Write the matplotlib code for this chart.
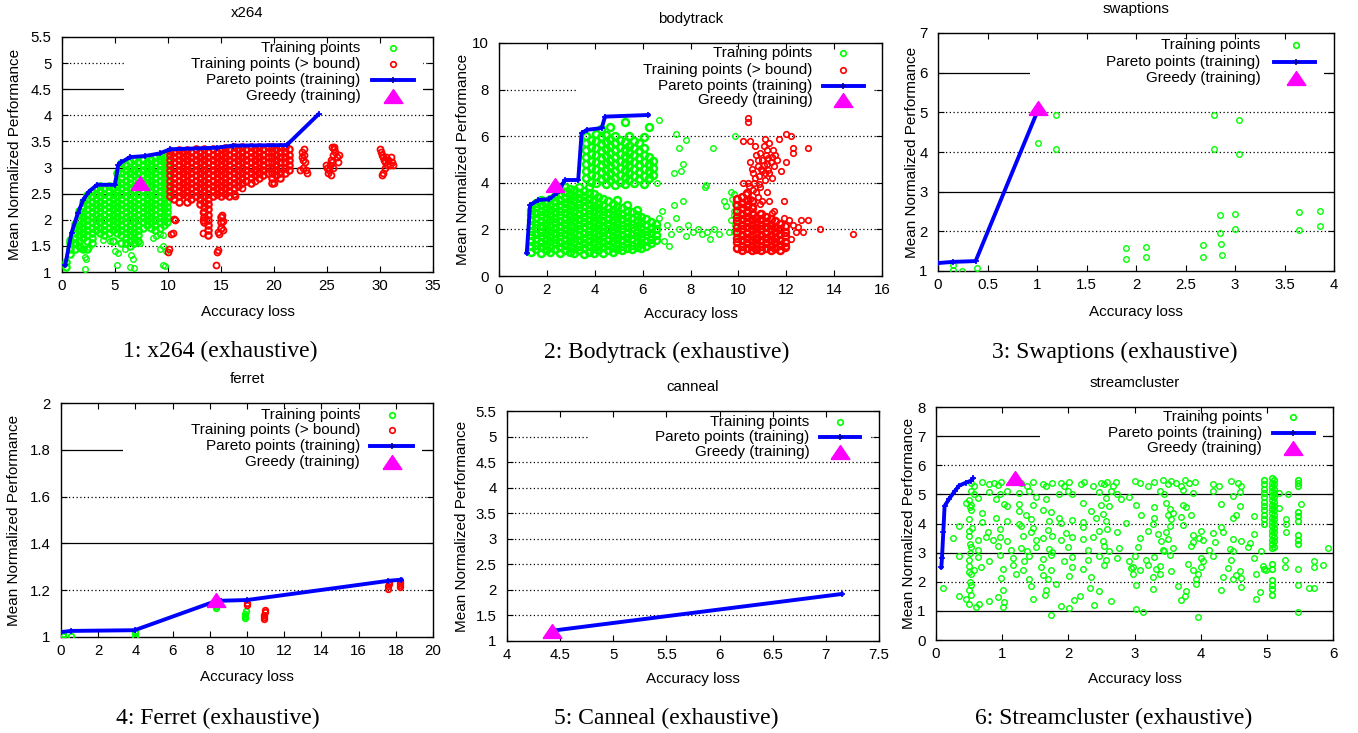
import matplotlib
matplotlib.use("Agg")
import matplotlib.pyplot as plt
from matplotlib.patches import Rectangle

plt.rcParams['font.family'] = ['Liberation Sans', 'DejaVu Sans']

GREEN = '#00ff00'
RED = '#ff0000'
BLUE = '#0000ff'
MAGENTA = '#ff00ff'
TRI = [(-1, -0.74), (1, -0.74), (0, 0.74), (-1, -0.74)]

# ------------------------------------------------------------------ data
# ---- x264 ----
x264_pareto = [(0.3, 1.13), (0.9, 1.75), (1.5, 2.13), (2.0, 2.38), (2.5, 2.53), (3.3, 2.67),
               (5.0, 2.67), (5.3, 3.05), (5.6, 3.1), (6.4, 3.2), (7.8, 3.22), (9.2, 3.27),
               (10.2, 3.35), (14.6, 3.38), (16.1, 3.42), (21.2, 3.43), (24.2, 4.02)]
x264_greedy = [(7.4, 2.7)]
x264_train_x = [0.4, 0.8, 1.2, 1.6, 2.0, 2.4, 2.8, 3.2, 3.6, 4.0, 4.4, 4.8, 5.2, 5.6, 6.0, 6.4,
                6.8, 7.2, 7.6, 8.0, 8.4, 8.8, 9.2, 9.6, 9.9]
x264_train_y = [
    [1.1, 1.2],
    [1.35, 1.45, 1.55, 1.62],
    [1.45, 1.55, 1.65, 1.75, 1.85, 1.92],
    [1.5, 1.6, 1.7, 1.8, 1.9, 2.0, 2.1, 2.16],
    [1.45, 1.65, 1.75, 1.85, 1.95, 2.05, 2.15, 2.25, 2.35],
    [1.45, 1.6, 1.7, 1.8, 1.9, 2.0, 2.1, 2.2, 2.3, 2.4, 2.48],
    [1.55, 1.65, 1.75, 1.85, 1.95, 2.05, 2.15, 2.25, 2.35, 2.45, 2.55],
    [1.8, 1.9, 2.0, 2.1, 2.2, 2.3, 2.4, 2.5, 2.6],
    [1.75, 1.85, 1.95, 2.05, 2.15, 2.25, 2.35, 2.45, 2.55, 2.64],
    [1.7, 1.8, 1.9, 2.0, 2.1, 2.2, 2.3, 2.4, 2.5, 2.6],
    [1.75, 1.85, 1.95, 2.05, 2.15, 2.25, 2.35, 2.45, 2.55, 2.64],
    [1.6, 1.8, 1.9, 2.0, 2.1, 2.2, 2.3, 2.4, 2.5, 2.6],
    [1.75, 1.85, 1.95, 2.05, 2.15, 2.25, 2.35, 2.45, 2.55, 2.65, 2.75, 2.9],
    [1.55, 1.7, 1.8, 1.9, 2.0, 2.1, 2.2, 2.3, 2.4, 2.5, 2.6, 2.7, 2.8, 2.9, 3.0, 3.08],
    [1.55, 1.65, 1.75, 1.85, 1.95, 2.05, 2.15, 2.25, 2.35, 2.45, 2.55, 2.65, 2.75, 2.85, 2.95, 3.05],
    [1.5, 1.6, 1.7, 1.8, 1.9, 2.0, 2.1, 2.2, 2.3, 2.4, 2.5, 2.6, 2.7, 2.8, 2.9, 3.0, 3.1],
    [1.55, 1.65, 1.75, 1.85, 1.95, 2.05, 2.15, 2.25, 2.35, 2.45, 2.55, 2.65, 2.85, 2.95, 3.05, 3.15],
    [1.6, 1.7, 1.8, 1.9, 2.0, 2.1, 2.2, 2.3, 2.4, 2.5, 2.6, 2.7, 2.8, 2.9, 3.0, 3.1],
    [1.85, 1.95, 2.05, 2.15, 2.25, 2.35, 2.45, 2.55, 2.65, 2.75, 2.85, 2.95, 3.05, 3.15],
    [1.9, 2.0, 2.1, 2.2, 2.3, 2.4, 2.5, 2.6, 2.7, 2.8, 2.9, 3.0, 3.1],
    [1.85, 1.95, 2.05, 2.15, 2.25, 2.35, 2.45, 2.55, 2.65, 2.75, 2.85, 2.95, 3.05, 3.15],
    [1.8, 1.9, 2.0, 2.1, 2.2, 2.3, 2.4, 2.5, 2.6, 2.7, 2.8, 2.9, 3.0, 3.1, 3.2],
    [1.85, 1.95, 2.05, 2.15, 2.25, 2.35, 2.45, 2.55, 2.65, 2.75, 2.85, 2.95, 3.05, 3.15, 3.22],
    [1.9, 2.0, 2.1, 2.2, 2.3, 2.4, 2.5, 2.6, 2.7, 2.8, 2.9, 3.0, 3.1, 3.2],
    [1.95, 2.05, 2.15, 2.25, 2.35, 2.45, 2.55, 2.65, 2.75, 2.85, 2.95, 3.05, 3.15, 3.25],
]
x264_train_extra = [(2.2, 1.29), (2.3, 1.25), (2.2, 1.06), (1.7, 1.46), (1.9, 1.45), (2.5, 1.47),
                    (5.0, 1.4), (5.3, 1.36), (5.2, 1.13), (6.4, 1.1), (6.5, 1.32), (6.7, 1.25),
                    (6.8, 1.08), (7.0, 1.61), (7.4, 1.55), (8.6, 1.65), (8.9, 1.68), (9.2, 1.72),
                    (9.5, 1.7), (9.2, 1.45), (9.5, 1.5), (9.5, 1.13), (9.7, 1.12), (9.8, 1.4),
                    (4.5, 1.6), (3.9, 1.62), (5.9, 1.45)]
x264_over_x = [10.2, 10.6, 11.0, 11.4, 11.8, 12.2, 12.6, 13.0, 13.4, 13.8, 14.2, 14.6, 15.0, 15.4,
               15.8, 16.2, 16.6, 17.0, 17.4, 17.8, 18.2, 18.6, 19.0, 19.4, 19.8, 20.2, 20.6, 21.0, 21.4]
x264_over_y = [
    [2.45, 2.55, 2.65, 2.75, 2.85, 2.95, 3.05, 3.15, 3.25, 3.32],
    [2.4, 2.5, 2.6, 2.7, 2.8, 2.9, 3.0, 3.1, 3.2, 3.3],
    [2.35, 2.45, 2.55, 2.65, 2.75, 2.85, 2.95, 3.05, 3.15, 3.25, 3.33],
    [2.5, 2.6, 2.7, 2.8, 2.9, 3.0, 3.1, 3.2, 3.3],
    [2.35, 2.45, 2.55, 2.65, 2.75, 2.85, 2.95, 3.05, 3.15, 3.25, 3.34],
    [2.4, 2.5, 2.6, 2.7, 2.8, 2.9, 3.0, 3.1, 3.2, 3.3],
    [2.45, 2.55, 2.65, 2.75, 2.85, 2.95, 3.05, 3.15, 3.25, 3.35],
    [2.3, 2.4, 2.5, 2.6, 2.7, 2.8, 2.9, 3.0, 3.1, 3.2, 3.3],
    [1.95, 2.05, 2.15, 2.25, 2.35, 2.45, 2.55, 2.65, 2.75, 2.85, 2.95, 3.05, 3.15, 3.25, 3.35],
    [1.7, 1.8, 1.9, 2.0, 2.1, 2.2, 2.3, 2.4, 2.5, 2.6, 2.7, 2.8, 2.9, 3.0, 3.1, 3.2, 3.3],
    [2.45, 2.55, 2.65, 2.75, 2.85, 2.95, 3.05, 3.15, 3.25, 3.35],
    [2.5, 2.6, 2.7, 2.8, 2.9, 3.0, 3.1, 3.2, 3.3],
    [1.85, 1.95, 2.05, 2.45, 2.55, 2.65, 2.75, 2.85, 2.95, 3.05, 3.15, 3.25, 3.35],
    [2.5, 2.6, 2.7, 2.8, 2.9, 3.0, 3.1, 3.2, 3.3, 3.38],
    [2.45, 2.55, 2.65, 2.75, 2.85, 2.95, 3.05, 3.15, 3.25, 3.35],
    [2.5, 2.6, 2.7, 2.8, 2.9, 3.0, 3.1, 3.2, 3.3, 3.4],
    [2.65, 2.75, 2.85, 2.95, 3.05, 3.15, 3.25, 3.35],
    [2.7, 2.8, 2.9, 3.0, 3.1, 3.2, 3.3, 3.4],
    [2.75, 2.85, 2.95, 3.05, 3.15, 3.25, 3.35],
    [2.7, 2.8, 2.9, 3.0, 3.1, 3.2, 3.3, 3.4],
    [2.85, 2.95, 3.05, 3.15, 3.25, 3.35],
    [2.8, 2.9, 3.0, 3.1, 3.2, 3.3, 3.4],
    [2.85, 2.95, 3.05, 3.15, 3.25, 3.35],
    [2.9, 3.0, 3.1, 3.2, 3.3, 3.4],
    [2.7, 2.8, 2.9, 3.0, 3.1, 3.2, 3.3, 3.4],
    [2.85, 2.95, 3.05, 3.15, 3.25, 3.35],
    [2.8, 2.9, 3.0, 3.1, 3.2, 3.3, 3.4],
    [2.9, 3.0, 3.1, 3.2, 3.3, 3.4],
    [2.95, 3.05, 3.15, 3.25, 3.35],
]
x264_over_extra = [(10.0, 1.38), (10.1, 1.45), (10.3, 1.72), (10.5, 1.75), (10.6, 2.02), (10.7, 2.0),
                   (13.3, 1.74), (13.3, 2.0), (13.3, 2.15), (14.7, 1.77), (14.8, 1.72), (14.7, 1.42),
                   (14.6, 1.38), (14.5, 1.13), (15.1, 2.1), (15.2, 1.98), (15.2, 1.8), (16.3, 2.45),
                   (17.0, 2.6), (18.2, 2.75), (20.0, 2.7), (22.5, 2.95),
                   (22.6, 3.3), (22.7, 3.15), (22.8, 3.25), (22.7, 3.0), (22.9, 3.1), (23.0, 2.95),
                   (22.6, 3.2), (22.8, 3.35), (23.1, 2.9),
                   (25.5, 3.4), (25.7, 3.35), (25.6, 3.25), (25.4, 3.15), (25.3, 3.05), (25.2, 2.95),
                   (25.1, 2.9), (25.8, 3.3), (25.9, 3.2), (26.0, 3.1), (25.6, 3.0), (25.4, 2.85),
                   (25.7, 3.4), (26.1, 3.25), (25.5, 3.1), (24.9, 3.05), (25.0, 3.0),
                   (30.0, 3.35), (30.1, 3.3), (30.2, 3.25), (30.3, 3.2), (30.4, 3.15), (30.5, 3.1),
                   (30.6, 3.2), (30.8, 3.15), (30.9, 3.05), (31.0, 3.2), (31.1, 3.1), (30.5, 3.0),
                   (30.3, 2.9), (30.2, 2.85), (30.7, 3.05), (31.2, 3.05)]

# ---- bodytrack ----
bt_pareto = [(1.16, 0.99), (1.3, 3.05), (1.64, 3.26), (2.1, 3.3), (2.41, 3.55), (2.76, 4.12),
             (3.31, 4.12), (3.45, 6.12), (3.66, 6.27), (4.29, 6.35), (4.43, 6.84), (6.24, 6.91)]
bt_greedy = [(2.34, 3.9)]
bt_train_x = [1.35, 1.55, 1.75, 1.95, 2.15, 2.35, 2.55, 2.75, 2.95, 3.15, 3.35, 3.55, 3.75, 3.95,
              4.15, 4.35, 4.55, 4.75, 4.95, 5.15, 5.35, 5.55, 5.75, 5.95, 6.15, 6.35, 6.55]
bt_train_y = [
    [1.05, 1.3, 1.5, 1.75, 1.95, 2.2, 2.4, 2.65, 2.85],
    [1.15, 1.35, 1.6, 1.8, 2.05, 2.25, 2.5, 2.7, 2.95, 3.15],
    [1.0, 1.25, 1.45, 1.7, 1.9, 2.15, 2.35, 2.6, 2.8, 3.05, 3.25],
    [1.1, 1.35, 1.55, 1.8, 2.0, 2.25, 2.45, 2.7, 2.9, 3.15],
    [1.05, 1.25, 1.5, 1.7, 1.95, 2.15, 2.4, 2.6, 2.85, 3.05, 3.3],
    [1.15, 1.4, 1.6, 1.85, 2.05, 2.3, 2.5, 2.75, 2.95, 3.2, 3.45],
    [1.0, 1.25, 1.45, 1.7, 1.9, 2.15, 2.35, 2.6, 2.8, 3.05, 3.25, 3.5, 3.75],
    [1.1, 1.35, 1.55, 1.8, 2.0, 2.25, 2.45, 2.7, 2.9, 3.15, 3.35, 3.6, 3.8],
    [1.05, 1.25, 1.5, 1.7, 1.95, 2.15, 2.4, 2.6, 2.85, 3.05, 3.3, 3.5, 3.75],
    [1.0, 1.2, 1.45, 1.65, 1.9, 2.1, 2.35, 2.55, 2.8, 3.0, 3.25, 3.45, 3.7],
    [1.1, 1.3, 1.55, 1.75, 2.0, 2.2, 2.45, 2.65, 2.9, 3.1, 3.35, 3.55, 3.8],
    [0.95, 1.2, 1.4, 1.65, 1.85, 2.1, 2.3, 2.55, 2.75, 3.0, 3.2, 3.45, 3.65],
    [1.05, 1.3, 1.5, 1.75, 1.95, 2.2, 2.4, 2.65, 2.85, 3.1, 3.3, 3.55, 3.8],
    [1.0, 1.2, 1.45, 1.65, 1.9, 2.1, 2.35, 2.55, 2.8, 3.0, 3.25, 3.5],
    [1.1, 1.3, 1.55, 1.75, 2.0, 2.2, 2.45, 2.65, 2.9, 3.1, 3.4],
    [1.0, 1.25, 1.45, 1.7, 1.9, 2.15, 2.35, 2.6, 2.8, 3.05, 3.3],
    [1.1, 1.35, 1.55, 1.8, 2.0, 2.25, 2.45, 2.7, 2.9, 3.2],
    [1.05, 1.25, 1.5, 1.7, 1.95, 2.15, 2.4, 2.6, 2.85, 3.1],
    [1.15, 1.35, 1.6, 1.8, 2.05, 2.25, 2.5, 2.7, 2.95, 3.25],
    [1.1, 1.3, 1.55, 1.75, 2.0, 2.2, 2.45, 2.65, 2.9],
    [1.2, 1.4, 1.65, 1.85, 2.1, 2.3, 2.55, 2.8, 3.05],
    [1.15, 1.35, 1.6, 1.8, 2.05, 2.25, 2.5, 2.75],
    [1.25, 1.45, 1.7, 1.9, 2.15, 2.35, 2.6, 2.85],
    [1.2, 1.4, 1.65, 1.85, 2.1, 2.3, 2.55],
    [1.3, 1.5, 1.75, 1.95, 2.2, 2.45],
    [1.4, 1.6, 1.85, 2.05, 2.3],
    [1.55, 1.75, 2.0, 2.25],
]
bt_train2_x = [3.65, 3.85, 4.05, 4.25, 4.45, 4.65, 4.85, 5.05, 5.25, 5.45, 5.65, 5.85, 6.05, 6.25, 6.45]
bt_train2_y = [
    [4.2, 4.5, 4.8, 5.1, 5.4, 5.7, 6.0],
    [4.05, 4.35, 4.65, 4.95, 5.25, 5.55, 5.85],
    [4.0, 4.3, 4.6, 4.9, 5.2, 5.5, 5.8, 6.1],
    [4.15, 4.45, 4.75, 5.05, 5.35, 5.65, 5.95, 6.3],
    [3.95, 4.25, 4.55, 4.85, 5.15, 5.45, 5.75, 6.05],
    [4.1, 4.4, 4.7, 5.0, 5.3, 5.6, 5.9, 6.4],
    [3.9, 4.2, 4.5, 4.8, 5.1, 5.4, 5.7, 6.0],
    [4.05, 4.35, 4.65, 4.95, 5.25, 5.55, 5.85],
    [3.95, 4.25, 4.55, 4.85, 5.15, 5.45, 5.75, 6.6],
    [4.1, 4.4, 4.7, 5.0, 5.3, 5.6, 6.0],
    [4.0, 4.3, 4.6, 4.9, 5.2, 5.5, 5.8],
    [4.15, 4.45, 4.75, 5.05, 5.35, 5.7],
    [3.95, 4.3, 4.6, 4.9, 5.2, 5.5, 5.95],
    [4.2, 4.5, 4.8, 5.1, 6.4],
    [4.35, 4.65, 4.95],
]
bt_train_extra = [(6.7, 6.7), (7.4, 6.1), (7.8, 5.85), (7.5, 5.5), (7.7, 4.8), (7.6, 4.5), (7.3, 4.4),
                  (6.6, 4.0), (8.65, 3.9), (8.6, 3.8), (8.95, 5.5), (9.85, 6.0),
                  (6.8, 2.8), (7.0, 2.2), (7.2, 1.8), (7.4, 2.5), (7.3, 3.05), (7.7, 3.2), (7.5, 2.0),
                  (7.8, 1.7), (7.9, 2.2), (8.1, 1.9), (8.3, 2.0), (8.5, 1.8), (8.8, 1.6), (9.0, 2.0),
                  (9.2, 1.8), (9.4, 3.2), (9.5, 3.0), (9.6, 1.9), (9.7, 2.4), (9.8, 3.5), (9.8, 2.8),
                  (9.85, 2.2), (9.9, 1.2), (9.9, 1.6), (9.75, 3.3), (9.85, 3.1), (6.9, 1.5),
                  (7.1, 1.3), (6.7, 2.5), (8.7, 1.9), (9.8, 1.9), (9.8, 2.6), (9.7, 3.6)]
bt_over_x = [9.95, 10.15, 10.35, 10.55, 10.75, 10.95, 11.15, 11.35, 11.55, 11.75, 11.95]
bt_over_y = [
    [1.2, 1.45, 1.65, 1.9, 2.1, 2.35, 2.55, 2.8, 3.05, 3.3],
    [1.1, 1.3, 1.55, 1.75, 2.0, 2.2, 2.45, 2.65, 2.9, 3.15, 3.4],
    [1.2, 1.4, 1.65, 1.85, 2.1, 2.3, 2.55, 2.75, 3.0, 3.25, 3.55],
    [1.1, 1.3, 1.55, 1.75, 2.0, 2.2, 2.45, 2.65, 2.9, 3.2],
    [1.15, 1.4, 1.6, 1.85, 2.05, 2.3, 2.5],
    [1.1, 1.3, 1.55, 1.75, 2.0, 2.2, 2.45, 2.65],
    [1.2, 1.4, 1.65, 1.85, 2.1, 2.3, 2.55],
    [1.1, 1.3, 1.55, 1.75, 2.0, 2.2, 2.45],
    [1.2, 1.45, 1.65, 1.9, 2.1, 2.35],
    [1.1, 1.35, 1.55, 1.8, 2.0, 2.25],
    [1.25, 1.45, 1.7, 1.9, 2.15],
]
bt_over_extra = [(10.3, 3.5), (10.5, 3.3), (10.6, 3.7), (10.8, 3.4), (10.4, 4.0), (10.7, 4.2),
                 (10.9, 3.8), (11.0, 4.5), (11.1, 4.1), (11.2, 4.8), (10.8, 4.7), (11.3, 4.4),
                 (11.0, 5.0), (11.4, 5.1), (11.2, 5.4), (10.9, 5.3), (11.5, 4.7), (11.6, 5.0),
                 (11.3, 5.7), (10.7, 5.6), (11.1, 5.9), (10.5, 4.9), (10.2, 4.0), (11.0, 3.2),
                 (11.3, 3.2), (11.5, 2.8), (11.9, 3.2), (12.0, 4.9), (12.3, 5.3), (12.3, 5.5),
                 (12.9, 5.5), (11.7, 5.9), (12.0, 6.1), (12.2, 6.0), (10.2, 5.8), (10.5, 5.8),
                 (10.4, 6.6), (10.4, 6.8), (11.8, 4.5), (10.6, 2.7), (11.9, 2.5), (12.1, 2.4),
                 (12.3, 2.2), (12.5, 2.1), (12.6, 2.4), (12.4, 1.9), (12.7, 1.9), (12.9, 2.4),
                 (13.4, 2.0), (14.8, 1.8), (12.2, 1.6), (12.0, 1.3), (11.4, 2.7), (10.9, 2.7),
                 (11.1, 4.4), (10.8, 5.0), (11.4, 4.2), (10.6, 4.4), (11.2, 3.6), (10.9, 3.1),
                 (10.4, 3.1), (10.6, 3.0), (10.75, 3.6), (10.45, 3.85), (10.65, 4.0), (10.85, 4.3),
                 (11.05, 4.75), (11.25, 5.05), (11.15, 5.2), (11.35, 4.9), (10.95, 4.6), (11.25, 4.55),
                 (10.85, 3.95), (11.45, 5.4), (11.05, 5.6), (11.55, 5.2), (10.75, 5.2), (10.55, 4.6)]

# ---- swaptions ----
sw_pareto = [(0.0, 1.2), (0.15, 1.23), (0.38, 1.25), (1.0, 5.0)]
sw_greedy = [(1.01, 5.1)]
sw_train = [(0.15, 1.15), (0.15, 1.02), (0.24, 1.0), (0.39, 1.07), (1.01, 4.22), (1.19, 4.94),
            (1.19, 4.08), (1.9, 1.59), (1.9, 1.31), (2.1, 1.61), (2.1, 1.36), (2.68, 1.65),
            (2.68, 1.35), (2.79, 4.94), (2.79, 4.08), (3.04, 4.8), (3.04, 3.95), (2.85, 2.4),
            (2.85, 1.97), (2.86, 1.68), (2.87, 1.4), (3.0, 2.44), (3.0, 2.05), (3.65, 2.48),
            (3.65, 2.03), (3.86, 2.52), (3.86, 2.13)]

# ---- ferret ----
fe_pareto = [(0.0, 1.021), (0.54, 1.026), (3.96, 1.029), (8.2, 1.15), (8.6, 1.155), (10.0, 1.158),
             (17.6, 1.24), (18.3, 1.245)]
fe_greedy = [(8.33, 1.158)]
fe_train = [(0.1, 1.004), (0.1, 1.012), (0.54, 1.006), (3.96, 1.004), (3.96, 1.015), (3.96, 1.026),
            (8.35, 1.125), (8.35, 1.133), (9.9, 1.08), (9.9, 1.09), (9.9, 1.1), (9.95, 1.11)]
fe_over = [(10.0, 1.135), (10.0, 1.147), (10.9, 1.076), (10.9, 1.086), (10.9, 1.096), (10.95, 1.106),
           (10.95, 1.114), (17.6, 1.206), (17.6, 1.216), (17.65, 1.226), (17.65, 1.234),
           (18.2, 1.212), (18.2, 1.222), (18.25, 1.232), (18.25, 1.24)]

# ---- canneal ----
ca_pareto = [(4.42, 1.2), (7.15, 1.92)]
ca_greedy = [(4.42, 1.2)]
ca_train = [(4.42, 1.2)]

# ---- streamcluster ----
sc_pareto = [(0.08, 2.5), (0.09, 2.8), (0.11, 3.7), (0.13, 4.6), (0.2, 4.85), (0.28, 5.1),
             (0.35, 5.3), (0.45, 5.4), (0.53, 5.47), (0.56, 5.55)]
sc_greedy = [(1.19, 5.55)]
sc_train = [
    (0.53, 5.4), (0.58, 5.3), (0.7, 5.42), (0.8, 5.35), (0.88, 5.4), (0.93, 5.32), (0.98, 5.42),
    (1.28, 5.38), (1.38, 5.3), (1.46, 5.42), (1.61, 5.36), (1.66, 5.3), (1.76, 5.4), (1.89, 5.38),
    (1.94, 5.3), (2.01, 5.42), (2.19, 5.35), (2.24, 5.42), (2.37, 5.3), (2.49, 5.4), (2.54, 5.34),
    (2.59, 5.42), (2.67, 5.3), (2.72, 5.44),
    (0.53, 5.1), (0.58, 5.0), (0.8, 5.08), (0.96, 5.02), (1.08, 5.1), (1.26, 5.04), (1.41, 5.12),
    (1.86, 5.02), (1.99, 5.1), (2.06, 5.0), (2.47, 5.08), (2.64, 5.12), (2.74, 5.0),
    (0.63, 4.87), (0.91, 4.85), (1.51, 4.9), (1.66, 4.83), (2.57, 4.88), (2.79, 4.85), (2.92, 4.9),
    (0.45, 4.7), (0.53, 4.62), (1.03, 4.68), (1.08, 4.6), (1.26, 4.66), (1.46, 4.62), (2.22, 4.7),
    (2.49, 4.64), (2.62, 4.6),
    (0.53, 4.45), (0.7, 4.35), (1.26, 4.42), (1.36, 4.3), (1.61, 4.48), (1.74, 4.38), (2.34, 4.44),
    (2.52, 4.32),
    (0.5, 4.15), (0.7, 4.05), (0.91, 4.2), (1.08, 4.1), (1.26, 4.0), (1.44, 4.15), (1.71, 4.08),
    (1.86, 4.18), (1.89, 4.02), (2.06, 4.12), (2.22, 4.05), (2.42, 4.2), (2.57, 4.1), (2.87, 4.02),
    (0.35, 3.9), (0.5, 3.75), (0.55, 3.85), (0.78, 3.7), (0.96, 3.8), (1.28, 3.92), (1.44, 3.72),
    (1.46, 3.85), (1.69, 3.78), (1.96, 3.68), (2.22, 3.88), (2.47, 3.75), (2.59, 3.82), (2.74, 3.7),
    (0.25, 3.5), (0.5, 3.58), (0.63, 3.42), (0.76, 3.55), (0.86, 3.45), (0.96, 3.52), (1.08, 3.4),
    (1.31, 3.56), (1.51, 3.44), (1.61, 3.5), (1.76, 3.58), (1.89, 3.42), (2.06, 3.54), (2.22, 3.46),
    (2.37, 3.52), (2.52, 3.4),
    (0.53, 3.2), (0.63, 3.1), (0.93, 3.22), (1.13, 3.08), (1.28, 3.15), (1.38, 3.05), (1.51, 3.2),
    (1.71, 3.12), (1.76, 3.02), (1.99, 3.18), (2.29, 3.1), (2.54, 3.22), (2.62, 3.06), (2.77, 3.15),
    (0.35, 2.9), (0.5, 2.75), (0.63, 2.85), (0.8, 2.72), (0.96, 2.92), (1.16, 2.8), (1.33, 2.7),
    (1.41, 2.88), (1.61, 2.78), (1.74, 2.93), (1.94, 2.72), (2.06, 2.85), (2.29, 2.76), (2.47, 2.9),
    (2.57, 2.74), (2.74, 2.82), (2.92, 2.7),
    (0.5, 2.55), (0.58, 2.42), (0.68, 2.5), (1.01, 2.45), (1.16, 2.56), (1.31, 2.42), (1.59, 2.52),
    (1.74, 2.4), (2.06, 2.5), (2.22, 2.44), (2.54, 2.56), (2.95, 2.48),
    (0.53, 2.25), (0.98, 2.12), (1.21, 2.28), (1.41, 2.1), (1.61, 2.22), (1.69, 2.08), (2.01, 2.2),
    (2.34, 2.15),
    (0.1, 1.8), (0.53, 1.9), (1.01, 1.72), (1.44, 1.85), (1.66, 1.7), (1.81, 1.92), (2.32, 1.78),
    (2.47, 1.68),
    (0.35, 1.5), (0.45, 1.4), (0.53, 1.55), (0.8, 1.35), (0.93, 1.48), (1.03, 1.32), (1.46, 1.42),
    (1.64, 1.55), (2.09, 1.38), (2.17, 1.5), (2.64, 1.35),
    (0.5, 1.22), (0.6, 1.15), (0.65, 1.25), (1.01, 1.12), (1.89, 1.18), (2.01, 1.1), (2.39, 1.2),
    (1.74, 0.86),
    (0.51, 3.3), (0.52, 3.0), (0.5, 2.35), (0.52, 2.0), (0.5, 1.7), (0.51, 4.55), (0.5, 4.8),
    (3.0, 5.45), (3.08, 5.38), (3.2, 5.3), (3.3, 5.42), (3.43, 5.5), (3.5, 5.35), (3.55, 5.45),
    (3.63, 5.4), (3.71, 5.3), (3.76, 5.5), (3.83, 5.38), (3.91, 5.44), (4.18, 5.35), (4.28, 5.3),
    (4.46, 5.45), (4.56, 5.38), (4.61, 5.3),
    (3.38, 5.1), (3.45, 5.0), (3.73, 5.15), (3.88, 5.05), (4.18, 5.12), (4.49, 4.95), (4.59, 5.08),
    (5.19, 5.05), (5.32, 5.0),
    (3.03, 4.65), (3.3, 4.55), (3.48, 4.7), (3.53, 4.5), (3.73, 4.62), (3.78, 4.55), (4.31, 4.68),
    (4.59, 4.6), (5.19, 4.52), (5.52, 4.66),
    (3.1, 4.3), (3.3, 4.2), (3.5, 4.28), (3.55, 4.15), (3.58, 4.35), (3.71, 4.22), (3.86, 4.3),
    (4.49, 4.18), (4.54, 4.3), (4.81, 4.25), (5.29, 4.15),
    (3.28, 4.0), (3.53, 3.9), (3.73, 3.95), (4.31, 3.88), (5.29, 4.0),
    (3.2, 3.75), (3.35, 3.65), (3.48, 3.7), (3.88, 3.62), (4.01, 3.75), (4.18, 3.68), (4.34, 3.72),
    (4.81, 3.65), (5.29, 3.7),
    (3.08, 3.5), (3.4, 3.4), (3.5, 3.48), (3.88, 3.36), (3.98, 3.5), (4.03, 3.42), (4.21, 3.38),
    (4.49, 3.46), (4.61, 3.4), (4.74, 3.34),
    (3.05, 3.2), (3.43, 3.1), (3.45, 3.05), (3.58, 3.15), (3.86, 3.22), (4.13, 3.08), (4.44, 3.12),
    (4.49, 3.04), (4.71, 3.18), (4.91, 3.06), (5.92, 3.15),
    (3.0, 2.9), (3.18, 2.75), (3.3, 2.85), (3.53, 2.92), (4.01, 2.8), (4.03, 2.7), (4.18, 2.88),
    (4.46, 2.74), (4.81, 2.82), (5.27, 2.76), (5.72, 2.7),
    (2.98, 2.5), (3.08, 2.4), (3.2, 2.58), (3.33, 2.45), (3.38, 2.55), (3.55, 2.38), (3.81, 2.6),
    (3.88, 2.42), (4.01, 2.52), (4.41, 2.48), (4.59, 2.36), (4.94, 2.55), (4.99, 2.42), (5.27, 2.5),
    (5.47, 2.45), (5.72, 2.5), (5.85, 2.58),
    (2.98, 2.25), (3.28, 2.15), (3.38, 2.28), (3.93, 2.1), (3.96, 2.25), (4.34, 2.18), (4.49, 2.08),
    (4.54, 2.22), (4.61, 2.12), (4.84, 2.26),
    (3.03, 1.9), (3.28, 1.75), (3.66, 1.85), (3.78, 1.68), (3.93, 1.92), (4.31, 1.7), (4.61, 1.82),
    (4.89, 1.65), (5.47, 1.9), (5.64, 1.8), (5.72, 1.8),
    (3.76, 1.5), (4.84, 1.42), (3.7, 1.38),
    (3.03, 1.08), (3.13, 0.95), (5.47, 0.95), (3.96, 0.8)]
sc_col_x = [5.08, 5.11, 4.96, 5.47]
sc_col_y = [
    [1.55, 1.75, 1.9, 2.05, 2.45, 2.6, 3.15, 3.3, 3.45, 3.6, 3.75, 3.9, 4.05, 4.2, 4.35, 4.5, 4.65,
     4.8, 4.95, 5.1, 5.25, 5.4, 5.55],
    [3.2, 3.4, 3.55, 3.7, 3.85, 4.0, 4.15, 4.3, 4.45, 4.6, 4.75, 4.9, 5.05, 5.2, 5.35, 5.5],
    [2.45, 4.0, 4.15, 4.3, 4.45, 4.6, 4.75, 4.9, 5.05, 5.2, 5.35, 5.5],
    [3.3, 3.45, 3.6, 4.1, 4.25, 4.4, 5.3, 5.4, 5.5],
]


# ------------------------------------------------------------------ helpers
def cols(xs, ys):
    px, py = [], []
    for x, col in zip(xs, ys):
        for y in col:
            px.append(x)
            py.append(y)
    return px, py


def pairs(lst):
    return [p[0] for p in lst], [p[1] for p in lst]


W, H = 1358, 733
fig = plt.figure(figsize=(W / 100, H / 100), dpi=100)


def make_panel(rect, xlim, ylim, xt, yt, grid, title, ylab_off, xlab_off):
    l, t, r, b = rect
    ax = fig.add_axes([l / W, 1 - b / H, (r - l) / W, (b - t) / H])
    ax.set_xlim(*xlim)
    ax.set_ylim(*ylim)
    ax.set_xticks(xt)
    ax.set_yticks(yt)
    ax.set_xticklabels(['%g' % v for v in xt])
    ax.set_yticklabels(['%g' % v for v in yt])
    ax.tick_params(direction='in', length=4.3, width=0.8, top=True, right=True, labelsize=10.8)
    ax.tick_params(axis='x', pad=5)
    ax.tick_params(axis='y', pad=7.5)
    for sp in ax.spines.values():
        sp.set_linewidth(1.0)
    for v, st in zip(yt[1:-1], grid):
        if st == 's':
            ax.axhline(v, color='black', lw=0.9, zorder=1)
        else:
            ax.axhline(v, color='black', lw=0.9, ls=(0, (1, 2)), zorder=1)
    ax.annotate(title, xy=(0.5, 1), xycoords='axes fraction', xytext=(0, 24),
                textcoords='offset pixels', ha='center', va='center', fontsize=10.8)
    ax.annotate('Accuracy loss', xy=(0.5, 0), xycoords='axes fraction', xytext=(0, -xlab_off),
                textcoords='offset pixels', ha='center', va='center', fontsize=11)
    ax.annotate('Mean Normalized Performance', xy=(0, 0.5), xycoords='axes fraction',
                xytext=(-ylab_off, 0), textcoords='offset pixels', ha='center', va='center',
                rotation=90, fontsize=11)
    return ax


def key(ax, entries, tx, mx, lx, rows, box):
    ax.add_patch(Rectangle((box[0], box[1]), box[2] - box[0], 1 - box[1], transform=ax.transAxes,
                           facecolor='white', edgecolor='none', zorder=1.2))
    for (label, kind), y in zip(entries, rows):
        ax.text(tx, y, label, transform=ax.transAxes, ha='right', va='center', fontsize=11, zorder=6)
        if kind in ('train', 'over'):
            c = GREEN if kind == 'train' else RED
            ax.plot([mx], [y], transform=ax.transAxes, ls='none', marker='o', ms=4, mfc='none',
                    mec=c, mew=1.2, clip_on=False, zorder=6)
        elif kind == 'pareto':
            ax.plot(lx, [y, y], transform=ax.transAxes, color=BLUE, lw=2.8, clip_on=False, zorder=6)
            ax.plot([mx], [y], transform=ax.transAxes, ls='none', marker='+', ms=4, mew=1.2,
                    color='#0000a0', clip_on=False, zorder=7)
        else:
            ax.plot([mx], [y], transform=ax.transAxes, ls='none', marker=TRI, ms=13.5,
                    color=MAGENTA, clip_on=False, zorder=6)


def pts(ax, x, y, color, ms=4.0, mew=1.0):
    ax.plot(x, y, ls='none', marker='o', ms=ms, mfc='none', mec=color, mew=mew, zorder=3)


def pareto(ax, lst):
    x, y = pairs(lst)
    ax.plot(x, y, color=BLUE, lw=2.8, marker='+', ms=4, mew=1.2, zorder=4)


def greedy(ax, lst):
    x, y = pairs(lst)
    ax.plot(x, y, ls='none', marker=TRI, ms=13.5, color=MAGENTA, zorder=5, clip_on=False)


E4 = [('Training points', 'train'), ('Training points (> bound)', 'over'),
      ('Pareto points (training)', 'pareto'), ('Greedy (training)', 'greedy')]
E3 = [('Training points', 'train'), ('Pareto points (training)', 'pareto'),
      ('Greedy (training)', 'greedy')]

# ---- panel 1: x264
ax = make_panel((62, 37, 433, 272), (0, 35), (1, 5.5), [0, 5, 10, 15, 20, 25, 30, 35],
                [1, 1.5, 2, 2.5, 3, 3.5, 4, 4.5, 5, 5.5], 'ddssddsd', 'x264', 47, 40)
key(ax, E4, 0.805, 0.893, [0.835, 0.950], [0.952, 0.885, 0.817, 0.749], (0.167, 0.715, 0.974))
gx, gy = cols(x264_train_x, x264_train_y)
pts(ax, gx, gy, GREEN, ms=4.6, mew=1.6)
ex, ey = pairs(x264_train_extra)
pts(ax, ex, ey, GREEN)
rx, ry = cols(x264_over_x, x264_over_y)
pts(ax, rx, ry, RED, ms=4.6, mew=1.6)
ex, ey = pairs(x264_over_extra)
pts(ax, ex, ey, RED, ms=4.3, mew=1.3)
pareto(ax, x264_pareto)
greedy(ax, x264_greedy)

# ---- panel 2: bodytrack
ax = make_panel((499, 43, 882, 276), (0, 16), (0, 10), [0, 2, 4, 6, 8, 10, 12, 14, 16],
                [0, 2, 4, 6, 8, 10], 'dddd', 'bodytrack', 36, 38)
key(ax, E4, 0.818, 0.899, [0.845, 0.952], [0.956, 0.884, 0.817, 0.755], (0.207, 0.712, 0.976))
gx, gy = cols(bt_train_x, bt_train_y)
g2x, g2y = cols(bt_train2_x, bt_train2_y)
pts(ax, gx + g2x, gy + g2y, GREEN, ms=5.0, mew=1.8)
ex, ey = pairs(bt_train_extra)
pts(ax, ex, ey, GREEN)
rx, ry = cols(bt_over_x, bt_over_y)
pts(ax, rx, ry, RED, ms=5.0, mew=1.8)
ex, ey = pairs(bt_over_extra)
pts(ax, ex, ey, RED, mew=1.2)
pareto(ax, bt_pareto)
greedy(ax, bt_greedy)

# ---- panel 3: swaptions
ax = make_panel((938, 33, 1334, 271), (0, 4), (1, 7), [0, 0.5, 1, 1.5, 2, 2.5, 3, 3.5, 4],
                [1, 2, 3, 4, 5, 6, 7], 'dsdds', 'swaptions', 26, 41)
key(ax, E3, 0.815, 0.904, [0.848, 0.952], [0.950, 0.879, 0.812], (0.232, 0.769, 0.976))
x, y = pairs(sw_train)
pts(ax, x, y, GREEN)
pareto(ax, sw_pareto)
greedy(ax, sw_greedy)

# ---- panel 4: ferret
ax = make_panel((61, 403, 433, 637), (0, 20), (1, 2), [0, 2, 4, 6, 8, 10, 12, 14, 16, 18, 20],
                [1, 1.2, 1.4, 1.6, 1.8, 2], 'dsds', 'ferret', 47, 40)
key(ax, E4, 0.804, 0.891, [0.831, 0.947], [0.949, 0.885, 0.818, 0.749], (0.167, 0.714, 0.970))
x, y = pairs(fe_train)
pts(ax, x, y, GREEN, mew=1.3)
x, y = pairs(fe_over)
pts(ax, x, y, RED, mew=1.3)
pareto(ax, fe_pareto)
greedy(ax, fe_greedy)

# ---- panel 5: canneal
ax = make_panel((507, 411, 879, 641), (4, 7.5), (1, 5.5), [4, 4.5, 5, 5.5, 6, 6.5, 7, 7.5],
                [1, 1.5, 2, 2.5, 3, 3.5, 4, 4.5, 5, 5.5], 'dddddddd', 'canneal', 45, 38)
key(ax, E3, 0.813, 0.894, [0.841, 0.949], [0.953, 0.888, 0.820], (0.218, 0.79, 0.976))
x, y = pairs(ca_train)
pts(ax, x, y, GREEN)
pareto(ax, ca_pareto)
greedy(ax, ca_greedy)

# ---- panel 6: streamcluster
ax = make_panel((936, 407, 1333, 640), (0, 6), (0, 8), [0, 1, 2, 3, 4, 5, 6],
                [0, 1, 2, 3, 4, 5, 6, 7, 8], 'sdsdsds', 'streamcluster', 27, 39)
key(ax, E3, 0.821, 0.900, [0.849, 0.952], [0.956, 0.887, 0.823], (0.261, 0.785, 0.976))
x, y = pairs(sc_train)
pts(ax, x, y, GREEN)
cx, cy = cols(sc_col_x, sc_col_y)
pts(ax, cx, cy, GREEN, mew=1.2)
pareto(ax, sc_pareto)
greedy(ax, sc_greedy)

# ---- captions
captions = ['1: x264 (exhaustive)', '2: Bodytrack (exhaustive)', '3: Swaptions (exhaustive)',
            '4: Ferret (exhaustive)', '5: Canneal (exhaustive)', '6: Streamcluster (exhaustive)']
cap_pos = [(220, 351), (667, 352), (1115, 352), (218, 718), (666, 718), (1114, 718)]
for txt, (cx_, cy_) in zip(captions, cap_pos):
    fig.text(cx_ / W, 1 - cy_ / H, txt, ha='center', va='center', fontsize=17,
             family=['Liberation Serif', 'DejaVu Serif'])

fig.savefig('out.png', dpi=100)
